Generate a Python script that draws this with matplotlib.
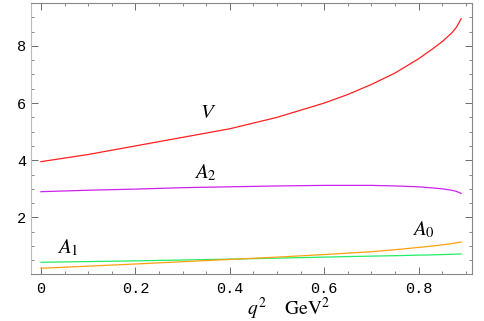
import matplotlib
matplotlib.use("Agg")
import matplotlib.pyplot as plt
from matplotlib.ticker import MultipleLocator

# form factors
q2 = [0.0, 0.1, 0.2, 0.3, 0.4, 0.5, 0.6, 0.65, 0.7, 0.75, 0.8, 0.83, 0.85, 0.87, 0.88, 0.89]
V = [3.95, 4.2, 4.5, 4.8, 5.1, 5.5, 6.0, 6.3, 6.65, 7.05, 7.55, 7.9, 8.15, 8.45, 8.65, 8.95]
A2 = [2.9, 2.95, 2.99, 3.04, 3.07, 3.1, 3.12, 3.12, 3.12, 3.1, 3.07, 3.03, 3.0, 2.95, 2.91, 2.84]
A1 = [0.43, 0.455, 0.48, 0.51, 0.54, 0.575, 0.61, 0.63, 0.645, 0.66, 0.68, 0.69, 0.70, 0.71, 0.715, 0.72]
A0 = [0.22, 0.295, 0.37, 0.45, 0.53, 0.61, 0.70, 0.75, 0.80, 0.87, 0.95, 1.0, 1.04, 1.08, 1.11, 1.14]

labels = ["$V$", "$A_2$", "$A_1$", "$A_0$"]
label_pos = [(0.354, 5.69), (0.348, 3.55), (0.058, 0.93), (0.81, 1.56)]

plt.rcParams['mathtext.fontset'] = 'stix'

fig = plt.figure(figsize=(4.84, 3.21), dpi=100)
ax = fig.add_axes([31 / 484, 1 - 274 / 321, (472 - 31) / 484, (274 - 3) / 321])

ax.plot(q2, V, color='#ff2020', lw=0.9)
ax.plot(q2, A2, color='#cc22ee', lw=0.9)
ax.plot(q2, A1, color='#22ee66', lw=0.9)
ax.plot(q2, A0, color='#ff9f10', lw=0.9)

for txt, (x, y) in zip(labels, label_pos):
    ax.text(x, y, txt, fontsize=15, ha='center', va='center')

ax.set_xlim(-0.021, 0.913)
ax.set_ylim(0.02, 9.5)
ax.xaxis.set_minor_locator(MultipleLocator(0.05))
ax.yaxis.set_minor_locator(MultipleLocator(0.5))
ax.set_xticks([0, 0.2, 0.4, 0.6, 0.8])
ax.set_xticklabels(['0', '0.2', '0.4', '0.6', '0.8'])
ax.set_yticks([2, 4, 6, 8])
ax.set_yticklabels(['2', '4', '6', '8'])

ax.tick_params(which='both', direction='in', top=True, right=True,
               color='#555555', labelsize=11)
ax.tick_params(which='major', length=5, width=0.6)
ax.tick_params(axis='x', which='major', pad=6)
ax.tick_params(which='minor', length=2.5, width=0.5)
for lab in ax.get_xticklabels() + ax.get_yticklabels():
    lab.set_family('Liberation Mono')

for side in ax.spines:
    ax.spines[side].set_color('#888888')
    ax.spines[side].set_linewidth(0.8)
ax.spines['left'].set_color('#bbbbbb')

ax.text(0.585, -0.151, r"$q^2\quad\ \mathrm{GeV}^2$", transform=ax.transAxes,
        fontsize=14, ha='center', va='baseline')

fig.savefig("out.png", dpi=100)
